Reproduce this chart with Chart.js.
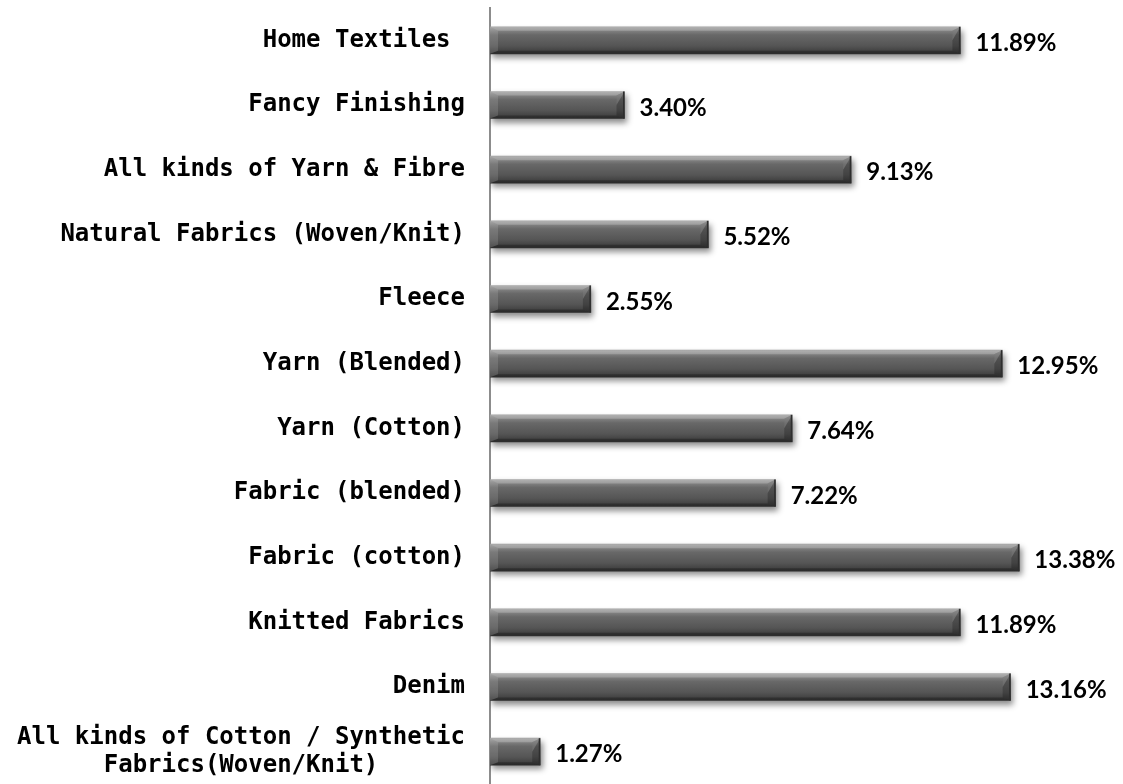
<!DOCTYPE html>
<html>
<head>
<meta charset="utf-8">
<script src="https://cdn.jsdelivr.net/npm/chart.js@4"></script>
<style>
  html, body { margin: 0; padding: 0; background: #ffffff; }
  #wrap { width: 1123px; height: 784px; position: relative; }
</style>
</head>
<body>
<div id="wrap"><canvas id="c"></canvas></div>
<script>
// Categories (top to bottom) and their shares in percent
const categories = [
  'Home Textiles ',
  'Fancy Finishing',
  'All kinds of Yarn & Fibre',
  'Natural Fabrics (Woven/Knit)',
  'Fleece',
  'Yarn (Blended)',
  'Yarn (Cotton)',
  'Fabric (blended)',
  'Fabric (cotton)',
  'Knitted Fabrics',
  'Denim',
  ['All kinds of Cotton / Synthetic', 'Fabrics(Woven/Knit)']
];
const shares = [11.89, 3.40, 9.13, 5.52, 2.55, 12.95, 7.64, 7.22, 13.38, 11.89, 13.16, 1.27];
const valueLabels = ['11.89%', '3.40%', '9.13%', '5.52%', '2.55%', '12.95%', '7.64%', '7.22%', '13.38%', '11.89%', '13.16%', '1.27%'];

const BAR_T = 27;

function barGradient(ctx) {
  const chart = ctx.chart;
  const ys = chart.scales && chart.scales.y;
  if (!chart.chartArea || !ys || ctx.dataIndex === undefined) return '#5a5a5a';
  const cy = ys.getPixelForValue(ctx.dataIndex);
  if (!isFinite(cy)) return '#5a5a5a';
  const top = cy - BAR_T / 2, bot = cy + BAR_T / 2;
  const g = chart.ctx.createLinearGradient(0, top, 0, bot);
  g.addColorStop(0, '#9c9c9c');
  g.addColorStop(0.12, '#858585');
  g.addColorStop(0.3, '#686868');
  g.addColorStop(0.7, '#555555');
  g.addColorStop(1, '#383838');
  return g;
}

const shadowPlugin = {
  id: 'barShadow',
  beforeDatasetsDraw(chart) {
    const c = chart.ctx;
    c.save();
    c.shadowColor = 'rgba(0,0,0,0.45)';
    c.shadowBlur = 6;
    c.shadowOffsetX = 2;
    c.shadowOffsetY = 4;
  },
  afterDatasetsDraw(chart) {
    chart.ctx.restore();
    const c = chart.ctx;
    const meta = chart.getDatasetMeta(0);
    c.save();
    meta.data.forEach((bar, i) => {
      const x0 = bar.base, x1 = bar.x;
      const h = bar.height;
      const yt = bar.y - h / 2, yb = bar.y + h / 2;
      const b = Math.min(8, (x1 - x0) / 2);
      // top bevel
      c.beginPath();
      c.moveTo(x0, yt); c.lineTo(x1, yt); c.lineTo(x1 - b, yt + 4); c.lineTo(x0 + b, yt + 4); c.closePath();
      c.fillStyle = 'rgba(255,255,255,0.22)'; c.fill();
      // bottom bevel
      c.beginPath();
      c.moveTo(x0, yb); c.lineTo(x1, yb); c.lineTo(x1 - b, yb - 3); c.lineTo(x0 + b, yb - 3); c.closePath();
      c.fillStyle = 'rgba(0,0,0,0.25)'; c.fill();
      // left bevel
      c.beginPath();
      c.moveTo(x0, yt); c.lineTo(x0 + b, yt + 4); c.lineTo(x0 + b, yb - 3); c.lineTo(x0, yb); c.closePath();
      c.fillStyle = 'rgba(255,255,255,0.12)'; c.fill();
      // right bevel
      c.beginPath();
      c.moveTo(x1, yt); c.lineTo(x1 - b, yt + 4); c.lineTo(x1 - b, yb - 3); c.lineTo(x1, yb); c.closePath();
      c.fillStyle = 'rgba(0,0,0,0.22)'; c.fill();
      c.beginPath();
      c.moveTo(x1, yt); c.lineTo(x1 - b, yt + 4); c.lineTo(x1 - b, bar.y); c.closePath();
      c.fillStyle = 'rgba(255,255,255,0.18)'; c.fill();
      // right edge line
      c.fillStyle = '#2e2e2e';
      c.fillRect(x1 - 1.5, yt, 1.5, h);
    });
    // value labels
    c.fillStyle = '#000000';
    c.font = 'bold 24px Lato, "Open Sans", sans-serif';
    c.textAlign = 'left';
    c.textBaseline = 'middle';
    meta.data.forEach((bar, i) => {
      c.fillText(valueLabels[i], bar.x + 15, bar.y + 3);
    });
    c.restore();
  }
};

new Chart(document.getElementById('c'), {
  type: 'bar',
  data: {
    labels: categories,
    datasets: [{
      data: shares,
      backgroundColor: barGradient,
      borderWidth: 0,
      barThickness: BAR_T
    }]
  },
  options: {
    indexAxis: 'y',
    responsive: true,
    maintainAspectRatio: false,
    animation: false,
    layout: { padding: { top: 8, right: 0, bottom: 0, left: 0 } },
    plugins: {
      legend: { display: false },
      tooltip: { enabled: false }
    },
    scales: {
      x: {
        display: false,
        min: 0,
        max: 16
      },
      y: {
        afterFit(scale) {
          scale.width = 490;
          scale.paddingTop = 0;
          scale.paddingBottom = 0;
        },
        grid: { display: false, drawTicks: false, tickLength: 0 },
        border: { display: true, color: '#8c8c8c', width: 2 },
        ticks: {
          padding: 25,
          color: '#000000',
          font: { family: '"DejaVu Sans Mono", monospace', weight: 'bold', size: 24, lineHeight: 1.2 },
          callback(value, index) {
            const lab = categories[index];
            if (Array.isArray(lab)) {
              const w = Math.max(...lab.map(s => s.length));
              return lab.map(s => {
                const pad = w - s.length;
                return s + ' '.repeat(Math.floor(pad / 2));
              });
            }
            return lab;
          }
        }
      }
    }
  },
  plugins: [shadowPlugin]
});
</script>
</body>
</html>
